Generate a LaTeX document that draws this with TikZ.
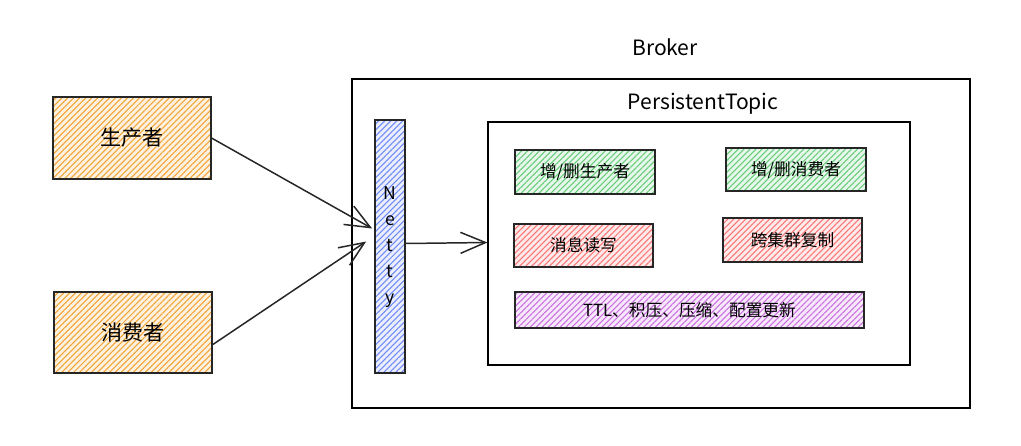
\documentclass[tikz,border=0pt]{standalone}
\usepackage{fontspec}
\setmainfont{Noto Sans CJK SC}
\usetikzlibrary{arrows.meta,patterns.meta,calc}
\definecolor{corange}{HTML}{F08C00}
\definecolor{cgreen}{HTML}{40C057}
\definecolor{cred}{HTML}{FA5252}
\definecolor{cpurple}{HTML}{BE4BDB}
\definecolor{cblue}{HTML}{4C6EF5}
\tikzset{
  hatch/.style={preaction={fill=#1!12},pattern={Lines[angle=45,distance=2.4pt,line width=0.6pt]},pattern color=#1!80},
  box/.style={draw=black!85,line width=1pt,inner sep=0pt},
  bigtxt/.style={font=\fontsize{12}{14}\selectfont},
  smalltxt/.style={font=\fontsize{9.5}{11}\selectfont},
  arr/.style={draw=black!85,line width=0.85pt,-{Straight Barb[length=5mm,width=4.2mm,line width=0.85pt]}},
}
\begin{document}
\begin{tikzpicture}[x=0.02cm,y=-0.02cm]
\useasboundingbox (0,0) rectangle (1021,446);
% Broker
\node[bigtxt] (brokerlbl) at (665,47) {Broker};
\node[draw=black,line width=0.7pt,minimum width=12.36cm,minimum height=6.58cm,inner sep=0pt] (broker) at (661,243.5) {};
% producers / consumers
\node[box,hatch=corange,bigtxt,minimum width=3.16cm,minimum height=1.64cm] (prod) at (132,138) {生产者};
\node[box,hatch=corange,bigtxt,minimum width=3.16cm,minimum height=1.62cm] (cons) at (133,332.5) {消费者};
% Netty
\node[box,hatch=cblue,minimum width=0.6cm,minimum height=5.06cm] (netty) at (390,246.5) {};
\node[align=center,font=\fontsize{10}{14.7}\selectfont] (nettytxt) at (390,247) {N\\e\\t\\t\\y};
% PersistentTopic
\node[bigtxt] (topiclbl) at (703,104) {PersistentTopic};
\node[draw=black,line width=0.7pt,minimum width=8.44cm,minimum height=4.86cm,inner sep=0pt] (topic) at (699,243.5) {};
\node[box,hatch=cgreen,smalltxt,minimum width=2.8cm,minimum height=0.88cm] (addp) at (585,172) {增/删生产者};
\node[box,hatch=cgreen,smalltxt,minimum width=2.8cm,minimum height=0.86cm] (addc) at (796,169.5) {增/删消费者};
\node[box,hatch=cred,smalltxt,minimum width=2.78cm,minimum height=0.86cm] (rw) at (583.5,245.5) {消息读写};
\node[box,hatch=cred,smalltxt,minimum width=2.78cm,minimum height=0.88cm] (geo) at (792.5,240) {跨集群复制};
\node[box,hatch=cpurple,smalltxt,minimum width=6.98cm,minimum height=0.72cm] (ttl) at (689.5,310) {TTL、积压、压缩、配置更新};
% connectors
\coordinate (end1) at ($(netty.west)+(-2,-18)$);
\coordinate (end2) at ($(netty.west)+(-8,-5)$);
\draw[arr] (prod.east) -- (end1);
\draw[arr] ($(cons.east)+(0,12)$) -- (end2);
\draw[arr] ($(netty.east)+(0,-3)$) -- ($(topic.west)+(0,-1)$);
\end{tikzpicture}
\end{document}
